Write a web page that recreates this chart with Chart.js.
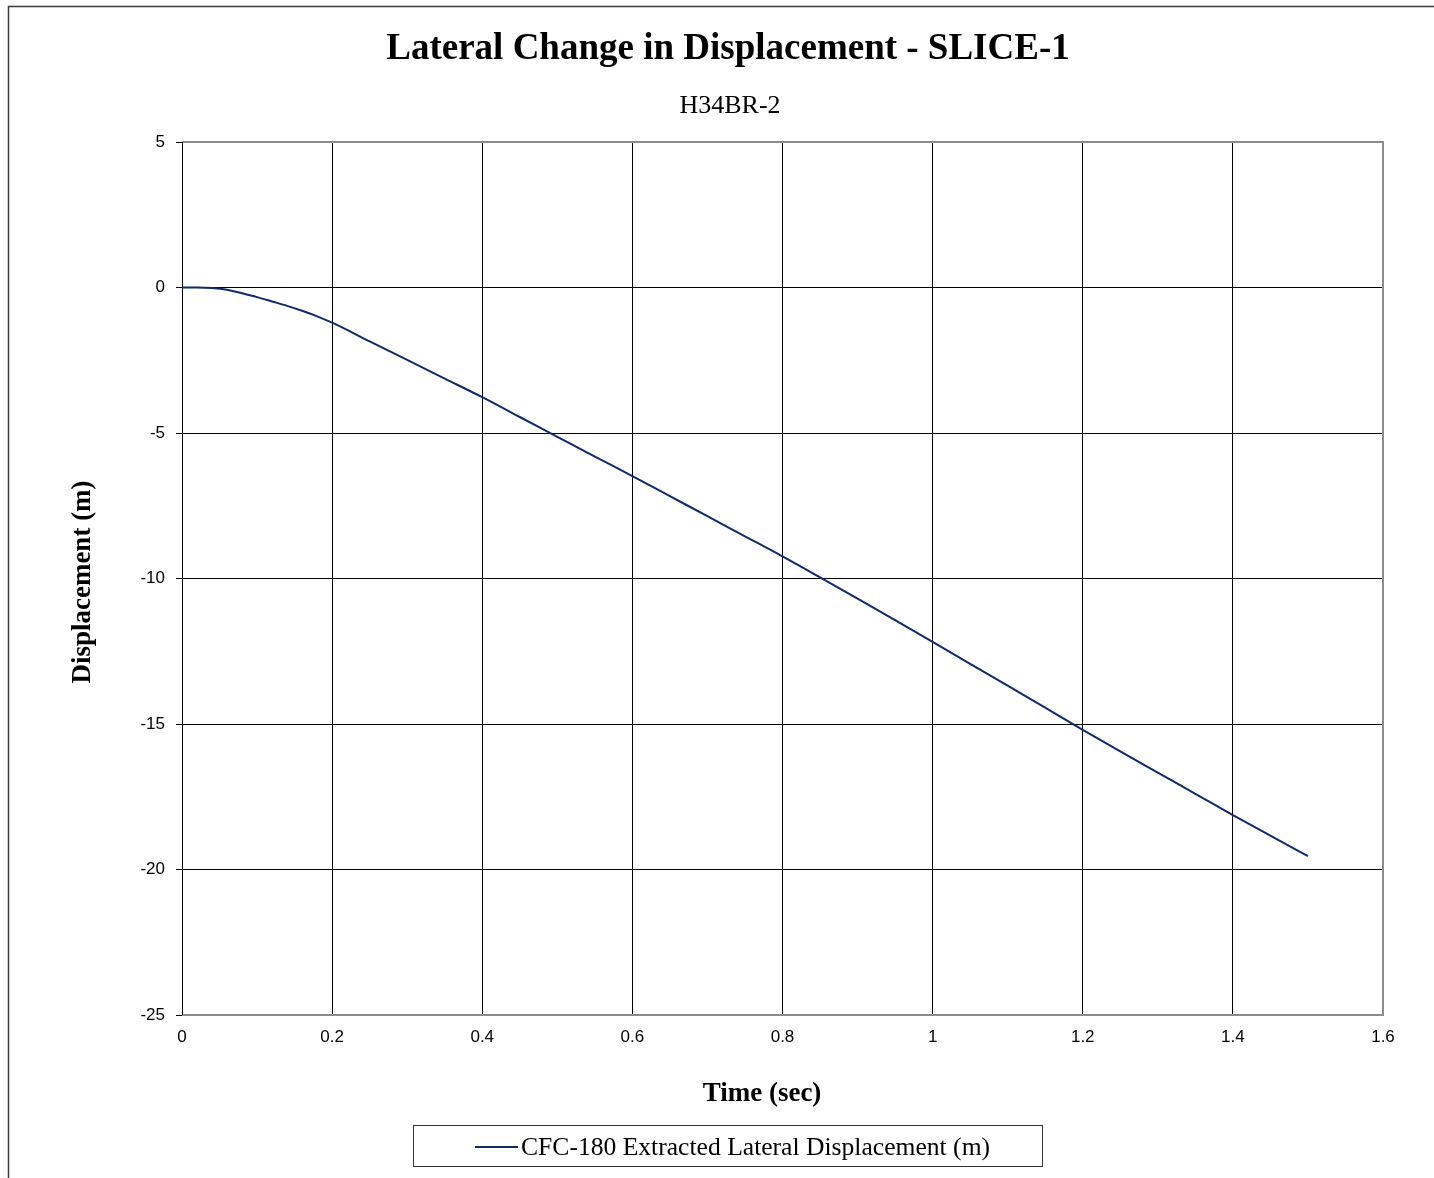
<!DOCTYPE html>
<html>
<head>
<meta charset="utf-8">
<script src="https://cdn.jsdelivr.net/npm/chart.js@4.4.1/dist/chart.umd.min.js"></script>
<style>
  html, body { margin: 0; padding: 0; background: #fff; }
  #wrap { width: 1434px; height: 1178px; position: relative; }
</style>
</head>
<body>
<div id="wrap"><canvas id="c" width="1434" height="1178"></canvas></div>
<script>
// ---- Data ----
const chartTitle = 'Lateral Change in Displacement - SLICE-1';
const chartSubtitle = 'H34BR-2';
const xAxisTitle = 'Time (sec)';
const yAxisTitle = 'Displacement (m)';
const seriesName = 'CFC-180 Extracted Lateral Displacement (m)';

const timeSec = [0, 0.02, 0.04, 0.06, 0.08, 0.10, 0.12, 0.14, 0.16, 0.18, 0.20,
  0.25, 0.30, 0.35, 0.40, 0.45, 0.50, 0.55, 0.60, 0.65, 0.70, 0.75, 0.80,
  0.85, 0.90, 0.95, 1.00, 1.05, 1.10, 1.15, 1.20, 1.25, 1.30, 1.35, 1.40, 1.45, 1.50];
const displacement = [0, 0, -0.02, -0.08, -0.20, -0.33, -0.48, -0.63, -0.80, -0.99, -1.21,
  -1.85, -2.49, -3.13, -3.77, -4.45, -5.13, -5.81, -6.48, -7.17, -7.86, -8.55, -9.24,
  -9.96, -10.69, -11.43, -12.18, -12.93, -13.68, -14.44, -15.20, -15.94, -16.67, -17.40, -18.13, -18.84, -19.54];

const xTicks = [0, 0.2, 0.4, 0.6, 0.8, 1, 1.2, 1.4, 1.6];
const yTicks = [5, 0, -5, -10, -15, -20, -25];

// ---- Styles ----
const SERIES_COLOR = '#0f2b6b';
const SERIF = '"Liberation Serif", "Times New Roman", serif';
const SANS = '"Liberation Sans", Arial, sans-serif';

const decor = {
  id: 'decor',
  beforeDraw(chart) {
    const ctx = chart.ctx;
    ctx.save();
    ctx.fillStyle = '#fff';
    ctx.fillRect(0, 0, chart.width, chart.height);
    // outer chart border (left and top visible)
    ctx.strokeStyle = '#3a3a3a';
    ctx.lineWidth = 1.5;
    ctx.beginPath();
    ctx.moveTo(8.5, chart.height);
    ctx.lineTo(8.5, 6.5);
    ctx.lineTo(chart.width, 6.5);
    ctx.stroke();

    ctx.fillStyle = '#000';
    ctx.textAlign = 'center';
    ctx.textBaseline = 'alphabetic';
    ctx.font = 'bold 37px ' + SERIF;
    ctx.fillText(chartTitle, 728, 59);
    ctx.font = '26px ' + SERIF;
    ctx.fillText(chartSubtitle, 730, 113);

    ctx.font = 'bold 27px ' + SERIF;
    ctx.fillText(xAxisTitle, 762, 1101);

    ctx.save();
    ctx.translate(90, 582);
    ctx.rotate(-Math.PI / 2);
    ctx.fillText(yAxisTitle, 0, 0);
    ctx.restore();

    // legend
    ctx.strokeStyle = '#333';
    ctx.lineWidth = 1;
    ctx.strokeRect(413.5, 1125.5, 629, 41);
    ctx.strokeStyle = SERIES_COLOR;
    ctx.lineWidth = 2;
    ctx.beginPath();
    ctx.moveTo(475, 1147);
    ctx.lineTo(518, 1147);
    ctx.stroke();
    ctx.fillStyle = '#000';
    ctx.textAlign = 'left';
    ctx.textBaseline = 'middle';
    ctx.font = '25.6px ' + SERIF;
    ctx.fillText(seriesName, 521, 1148);
    ctx.restore();
  },
  beforeDatasetsDraw(chart) {
    const { ctx, chartArea: a } = chart;
    ctx.save();
    ctx.strokeStyle = '#8c8c8c';
    ctx.lineWidth = 2;
    ctx.beginPath();
    ctx.moveTo(a.left, a.top);
    ctx.lineTo(a.right, a.top);
    ctx.lineTo(a.right, a.bottom);
    ctx.lineTo(a.left, a.bottom);
    ctx.stroke();
    ctx.strokeStyle = '#000';
    ctx.lineWidth = 1;
    ctx.beginPath();
    ctx.moveTo(a.left + 0.5, a.top);
    ctx.lineTo(a.left + 0.5, a.bottom);
    ctx.stroke();
    ctx.restore();
  }
};

new Chart(document.getElementById('c'), {
  type: 'line',
  data: {
    datasets: [{
      label: seriesName,
      data: timeSec.map((t, i) => ({ x: t, y: displacement[i] })),
      borderColor: SERIES_COLOR,
      backgroundColor: SERIES_COLOR,
      borderWidth: 2,
      pointRadius: 0,
      fill: false,
      cubicInterpolationMode: 'monotone'
    }]
  },
  options: {
    responsive: false,
    animation: false,
    layout: { padding: { left: 122, top: 142, right: 51, bottom: 123 } },
    plugins: {
      legend: { display: false },
      title: { display: false },
      tooltip: { enabled: false }
    },
    scales: {
      x: {
        type: 'linear',
        min: 0, max: 1.6,
        afterBuildTicks: s => { s.ticks = xTicks.map(v => ({ value: v })); },
        afterFit: s => { s.height = 40; },
        border: { display: false },
        grid: { color: '#000', lineWidth: 1, drawTicks: false },
        ticks: { color: '#000', font: { family: SANS, size: 17 }, padding: 12,
                 maxRotation: 0, autoSkip: false, callback: v => String(v) }
      },
      y: {
        type: 'linear',
        min: -25, max: 5,
        afterBuildTicks: s => { s.ticks = yTicks.map(v => ({ value: v })); },
        afterFit: s => { s.width = 60; },
        border: { display: false },
        grid: { color: '#000', lineWidth: 1, drawTicks: true, tickLength: 6, tickColor: '#000' },
        ticks: { color: '#000', font: { family: SANS, size: 17 }, padding: 11,
                 autoSkip: false, callback: v => String(v) }
      }
    }
  },
  plugins: [decor]
});
</script>
</body>
</html>
